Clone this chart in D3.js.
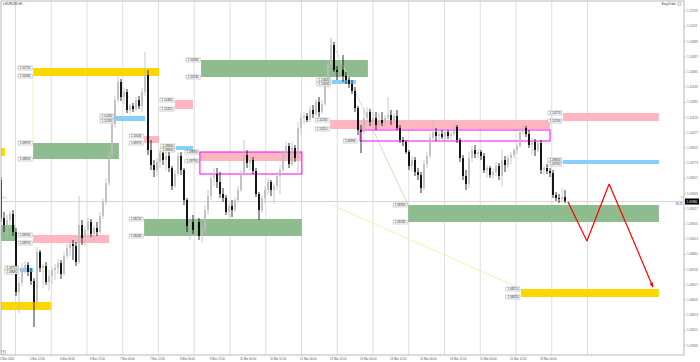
<!DOCTYPE html>
<html><head><meta charset="utf-8">
<script src="https://cdn.jsdelivr.net/npm/d3@7"></script>
<style>html,body{margin:0;padding:0;background:#fff;}svg{display:block;font-family:"Liberation Sans",Arial,sans-serif;}</style>
</head><body><svg id="c" width="700" height="362"></svg>
<script>
// ---- data (EURUSD H1 candles) ----
const open=[1.0960,1.0922,1.0915,1.0920,1.0926,1.0908,1.0848,1.0857,1.0872,1.0875,
1.0868,1.0859,1.0838,1.0888,1.0872,1.0874,1.0858,1.0864,1.0870,1.0872,
1.0877,1.0866,1.0884,1.0892,1.0896,1.0894,1.0878,1.0915,1.0902,1.0910,
1.0918,1.0906,1.0912,1.0908,1.0924,1.0938,1.0957,1.0985,1.1016,1.1040,
1.1058,1.1043,1.1048,1.1030,1.1034,1.1031,1.1040,1.1034,1.1048,1.1065,
1.0990,1.0975,1.0970,1.0978,1.0987,1.0980,1.0984,1.0972,1.0954,1.0966,
1.0984,1.0970,1.0940,1.0914,1.0918,1.0910,1.0918,1.0904,1.0910,1.0930,
1.0944,1.0962,1.0966,1.0958,1.0946,1.0942,1.0928,1.0934,1.0930,1.0940,
1.0950,1.0966,1.0985,1.0977,1.0980,1.0969,1.0946,1.0930,1.0942,1.0950,
1.0958,1.0950,1.0954,1.0964,1.0970,1.0986,1.0994,1.0976,1.0992,1.0982,
1.1012,1.1022,1.1024,1.1020,1.1030,1.1026,1.1038,1.1028,1.1036,1.1054,
1.1076,1.1095,1.1070,1.1068,1.1070,1.1064,1.1060,1.1056,1.1049,1.1032,
1.1010,1.1008,1.1022,1.1028,1.1018,1.1022,1.1015,1.1020,1.1017,1.1022,
1.1025,1.1020,1.1024,1.1012,1.1000,1.0998,1.0988,1.0974,1.0980,1.0968,
1.0965,1.0952,1.0976,1.0984,1.1002,1.1008,1.1004,1.1006,1.1003,1.1008,
1.1004,1.1006,1.1013,1.1000,1.0982,1.0964,1.0956,1.0982,1.0990,1.0986,
1.0988,1.0984,1.0970,1.0972,1.0965,1.0968,1.0974,1.0964,1.0980,1.0975,
1.0982,1.0985,1.0990,1.0994,1.1008,1.1012,1.1006,1.0995,1.0998,1.0990,
1.0997,1.0970,1.0972,1.0969,1.0967,1.0945,1.0942,1.0941,1.0943];
const high=[1.0963,1.0928,1.0925,1.0929,1.0930,1.0912,1.0863,1.0877,1.0879,1.0878,
1.0872,1.0862,1.0893,1.0890,1.0876,1.0878,1.0870,1.0873,1.0876,1.0881,
1.0880,1.0888,1.0896,1.0899,1.0900,1.0898,1.0944,1.0920,1.0914,1.0922,
1.0921,1.0915,1.0918,1.0928,1.0942,1.0962,1.0990,1.1022,1.1044,1.1064,
1.1061,1.1052,1.1051,1.1036,1.1037,1.1043,1.1044,1.1052,1.1088,1.1070,
1.1000,1.0980,1.0982,1.0990,1.0994,1.0990,1.0988,1.0974,1.0970,1.0988,
1.0988,1.0972,1.0942,1.0922,1.0925,1.0922,1.0922,1.0914,1.0935,1.0950,
1.0968,1.0972,1.0972,1.0968,1.0952,1.0945,1.0937,1.0940,1.0943,1.0954,
1.0970,1.1000,1.0990,1.0985,1.0983,1.0972,1.0948,1.0945,1.0954,1.0962,
1.0960,1.0957,1.0968,1.0975,1.0990,1.0998,1.0997,1.0998,1.0995,1.1018,
1.1027,1.1028,1.1027,1.1034,1.1035,1.1041,1.1043,1.1040,1.1058,1.1080,
1.1102,1.1098,1.1074,1.1072,1.1085,1.1068,1.1063,1.1060,1.1053,1.1034,
1.1015,1.1032,1.1033,1.1031,1.1028,1.1028,1.1027,1.1028,1.1025,1.1043,
1.1030,1.1027,1.1030,1.1015,1.1003,1.1000,1.0990,1.0984,1.0983,1.0972,
1.0968,1.0980,1.0988,1.1007,1.1020,1.1012,1.1009,1.1010,1.1011,1.1010,
1.1008,1.1016,1.1015,1.1002,1.0985,1.0970,1.0988,1.0994,1.0995,1.0991,
1.0990,1.0987,1.0975,1.0974,1.0972,1.0978,1.0977,1.0990,1.0984,1.0985,
1.0988,1.0992,1.0997,1.1012,1.1016,1.1014,1.1010,1.1002,1.1001,1.1000,
1.1000,1.0975,1.0976,1.0972,1.0970,1.0948,1.0946,1.0952,1.0950];
const low=[1.0918,1.0908,1.0902,1.0912,1.0904,1.0844,1.0827,1.0854,1.0866,1.0864,
1.0855,1.0813,1.0835,1.0868,1.0852,1.0855,1.0849,1.0856,1.0860,1.0866,
1.0861,1.0864,1.0881,1.0884,1.0880,1.0874,1.0876,1.0895,1.0894,1.0902,
1.0903,1.0898,1.0904,1.0906,1.0921,1.0935,1.0954,1.0982,1.1012,1.1038,
1.1039,1.1036,1.1027,1.1026,1.1028,1.1029,1.1031,1.1028,1.1044,1.0985,
1.0970,1.0963,1.0964,1.0972,1.0975,1.0970,1.0968,1.0950,1.0952,1.0964,
1.0965,1.0935,1.0908,1.0900,1.0906,1.0904,1.0900,1.0897,1.0906,1.0925,
1.0940,1.0954,1.0952,1.0942,1.0938,1.0925,1.0922,1.0923,1.0928,1.0937,
1.0948,1.0964,1.0972,1.0970,1.0966,1.0943,1.0920,1.0927,1.0937,1.0945,
1.0944,1.0936,1.0950,1.0946,1.0968,1.0982,1.0972,1.0974,1.0978,1.0965,
1.1005,1.1016,1.1018,1.1018,1.1022,1.1024,1.1023,1.1026,1.1034,1.1052,
1.1073,1.1068,1.1060,1.1062,1.1058,1.1056,1.1052,1.1046,1.1028,1.1005,
1.0987,1.1006,1.1018,1.1014,1.1012,1.1010,1.1012,1.1014,1.1013,1.1018,
1.1015,1.1016,1.1010,1.0997,1.0994,1.0986,1.0970,1.0969,1.0964,1.0960,
1.0947,1.0950,1.0972,1.0982,1.0998,1.0999,1.1000,1.1001,1.1000,1.1001,
1.0998,1.1004,1.0997,1.0978,1.0960,1.0950,1.0952,1.0978,1.0982,1.0982,
1.0980,1.0967,1.0962,1.0962,1.0961,1.0964,1.0960,1.0954,1.0968,1.0972,
1.0976,1.0982,1.0986,1.0992,1.1005,1.1003,1.0992,1.0985,1.0984,1.0988,
1.0966,1.0965,1.0966,1.0963,1.0942,1.0939,1.0937,1.0938,1.0937];
const close=[1.0922,1.0915,1.0920,1.0926,1.0908,1.0848,1.0857,1.0872,1.0875,1.0868,
1.0859,1.0838,1.0888,1.0872,1.0874,1.0858,1.0864,1.0870,1.0872,1.0877,
1.0866,1.0884,1.0892,1.0896,1.0894,1.0878,1.0915,1.0902,1.0910,1.0918,
1.0906,1.0912,1.0908,1.0924,1.0938,1.0957,1.0985,1.1016,1.1040,1.1058,
1.1043,1.1048,1.1030,1.1034,1.1031,1.1040,1.1034,1.1048,1.1065,1.0990,
1.0975,1.0970,1.0978,1.0987,1.0980,1.0984,1.0972,1.0954,1.0966,1.0984,
1.0970,1.0940,1.0914,1.0918,1.0910,1.0918,1.0904,1.0910,1.0930,1.0944,
1.0962,1.0966,1.0958,1.0946,1.0942,1.0928,1.0934,1.0930,1.0940,1.0950,
1.0966,1.0985,1.0977,1.0980,1.0969,1.0946,1.0930,1.0942,1.0950,1.0958,
1.0950,1.0954,1.0964,1.0970,1.0986,1.0994,1.0976,1.0992,1.0982,1.1012,
1.1022,1.1024,1.1020,1.1030,1.1026,1.1038,1.1028,1.1036,1.1054,1.1076,
1.1095,1.1070,1.1068,1.1070,1.1064,1.1060,1.1056,1.1049,1.1032,1.1010,
1.1008,1.1022,1.1028,1.1018,1.1022,1.1015,1.1020,1.1017,1.1022,1.1025,
1.1020,1.1024,1.1012,1.1000,1.0998,1.0988,1.0974,1.0980,1.0968,1.0965,
1.0952,1.0976,1.0984,1.1002,1.1008,1.1004,1.1006,1.1003,1.1008,1.1004,
1.1006,1.1013,1.1000,1.0982,1.0964,1.0956,1.0982,1.0990,1.0986,1.0988,
1.0984,1.0970,1.0972,1.0965,1.0968,1.0974,1.0964,1.0980,1.0975,1.0982,
1.0985,1.0990,1.0994,1.1008,1.1012,1.1006,1.0995,1.0998,1.0990,1.0997,
1.0970,1.0972,1.0969,1.0967,1.0945,1.0942,1.0941,1.0943,1.0939];

const timeLabels=["5 Mar 2024","5 Mar 12:00","6 Mar 00:00","6 Mar 12:00","7 Mar 00:00","7 Mar 12:00",
"8 Mar 00:00","8 Mar 12:00","11 Mar 00:00","11 Mar 12:00","12 Mar 00:00","12 Mar 12:00","13 Mar 00:00",
"13 Mar 12:00","14 Mar 00:00","14 Mar 12:00","15 Mar 00:00","15 Mar 12:00","18 Mar 00:00"];
const timeLabelBars=[0,10,20,30,40,50,60,70,80,90,100,110,120,130,140,150,160,170,180];
const priceTicks=[1.11293,1.11141,1.10989,1.10837,1.10685,1.10533,1.10381,1.10229,1.10077,1.09925,
1.09773,1.09621,1.09469,1.09317,1.09165,1.09013,1.08861,1.08709,1.08557,1.08405,1.08253,1.08101,1.07949];

// zones: kind, start bar, end bar, upper price, lower price, labelled
const zoneKind=["gold","green","pink","blue","green","gold","pink","blue","pink","green","pink","blue","gold","blue","pink","pink","blue","green","gold","green"];
const zoneFrom=[10.7,66.7,58,38,10.7,-1,47.7,58.3,66.3,47.7,10.7,6.3,-1,110.3,109.7,187.3,187.3,135.7,173.3,-1];
const zoneTo=[52.7,122.3,64,48,39.3,1.3,52.7,64,100.3,100.3,36,10.7,16.7,118.3,183,219.3,219.3,219.3,219.3,4.7];
const zoneHi=[1.1072,1.1080,1.1040,1.1024,1.0997,1.0992,1.1004,1.0994,1.0988,1.0921,1.0905,1.0872,1.0838,1.1060,1.1020,1.1027,1.0980,1.0935,1.0851,1.0915];
const zoneLo=[1.1064,1.1063,1.1031,1.1019,1.0981,1.0984,1.0997,1.0990,1.0979,1.0904,1.0897,1.0868,1.0830,1.1056,1.1011,1.1019,1.0976,1.0918,1.0843,1.0899];
const zoneLabelled=[1,1,1,1,1,0,1,1,1,1,1,1,0,1,1,1,1,1,1,0];
// magenta frames
const frameFrom=[66.3,119.7], frameTo=[100.3,183], frameHi=[1.0988,1.1010], frameLo=[1.0966,1.0999], frameLabel=[0,1];
// faint trend lines
const trendKind=["gold","green","gold"];
const trendB1=[110.3,109.7,10.7], trendP1=[1.0935,1.1102,1.1064];
const trendB2=[172,135.7,10.7], trendP2=[1.0853,1.0935,1.0997];
// projected red path
const pathBars=[189,195.3,202.7,210.7,217.3];
const pathPrices=[1.0938,1.0899,1.0956,1.0900,1.0853];

// ---- drawing ----
const svg=d3.select("#c");
const L=1,T=1,R=684,B=355;
const x=d3.scaleLinear().domain([0,close.length-1]).range([1,1+3*(close.length-1)]);
const y=d3.scaleLinear().domain([1.0790,1.1140]).range([350,0]);
const colors={gold:"#ffd700",green:"#8fbc8f",pink:"#ffb6c1",blue:"#87cefa"};
const faint={gold:"#fbeea8",green:"#cfe0cf"};
const f5=d3.format(".5f");

svg.append("rect").attr("width",700).attr("height",362).attr("fill","#fff");
svg.append("defs").append("clipPath").attr("id","clip").append("rect")
  .attr("x",L).attr("y",T).attr("width",R-L).attr("height",B-T);
svg.select("defs").append("marker").attr("id","arr").attr("viewBox","0 0 10 10")
  .attr("refX",9).attr("refY",5).attr("markerWidth",4).attr("markerHeight",4).attr("orient","auto")
  .append("path").attr("d","M0,1L10,5L0,9Z").attr("fill","#ff0000");

const g=svg.append("g").attr("clip-path","url(#clip)");

// vertical grid
const grid=d3.range(17).map(k=>15.5+35.75*k);
g.selectAll(".vg").data(grid).join("line").attr("x1",d=>d).attr("x2",d=>d).attr("y1",T).attr("y2",B)
  .attr("stroke","#dedede").attr("stroke-width",1);

// zones
const zones=zoneKind.map((k,i)=>({k,from:zoneFrom[i],to:zoneTo[i],hi:zoneHi[i],lo:zoneLo[i],lab:zoneLabelled[i]}));
g.selectAll(".z").data(zones).join("rect")
  .attr("x",d=>x(d.from)).attr("width",d=>x(d.to)-x(d.from))
  .attr("y",d=>y(d.hi)).attr("height",d=>y(d.lo)-y(d.hi)).attr("fill",d=>colors[d.k]);

// faint lines
trendKind.forEach((k,i)=>{
  g.append("line").attr("x1",x(trendB1[i])).attr("y1",y(trendP1[i])).attr("x2",x(trendB2[i])).attr("y2",y(trendP2[i]))
   .attr("stroke",faint[k]).attr("stroke-width",1);
});

// current price line
const last=close[close.length-1];
g.append("line").attr("x1",L).attr("x2",R).attr("y1",y(last)+0.5).attr("y2",y(last)+0.5).attr("stroke","#d6d6d6").attr("stroke-width",1);

// frames
frameFrom.forEach((f,i)=>{
  g.append("rect").attr("x",x(f)).attr("width",x(frameTo[i])-x(f)).attr("y",y(frameHi[i])).attr("height",y(frameLo[i])-y(frameHi[i]))
   .attr("fill","none").attr("stroke","#ff00ff").attr("stroke-width",1);
});

// candles
const bars=close.map((c,i)=>({i,o:open[i],h:high[i],l:low[i],c}));
const bull="#bdbdbd";
g.selectAll(".w").data(bars).join("line")
  .attr("x1",d=>x(d.i)).attr("x2",d=>x(d.i)).attr("y1",d=>y(d.h)).attr("y2",d=>y(d.l))
  .attr("stroke",d=>d.c>=d.o?bull:"#000").attr("stroke-width",0.8);
g.selectAll(".b").data(bars).join("rect")
  .attr("x",d=>x(d.i)-0.85).attr("width",1.7)
  .attr("y",d=>y(Math.max(d.o,d.c))).attr("height",d=>Math.max(0.7,Math.abs(y(d.o)-y(d.c))))
  .attr("fill",d=>d.c>=d.o?bull:"#000");

// red projected path
for(let i=0;i<pathBars.length-1;i++){
  const ln=g.append("line").attr("x1",x(pathBars[i])).attr("y1",y(pathPrices[i])).attr("x2",x(pathBars[i+1])).attr("y2",y(pathPrices[i+1]))
    .attr("stroke","#ff0000").attr("stroke-width",1.2);
  if(i===pathBars.length-2) ln.attr("marker-end","url(#arr)");
}

// level labels
function tag(px,py,txt){
  const w=14,h=4;
  svg.append("rect").attr("x",px-w).attr("y",py-h/2).attr("width",w).attr("height",h)
    .attr("fill","#fff").attr("stroke","#8a8a8a").attr("stroke-width",0.4);
  svg.append("text").attr("x",px-w/2).attr("y",py+1.05).attr("text-anchor","middle")
    .attr("font-size",3).attr("fill","#222").text(txt);
}
zones.filter(d=>d.lab).forEach(d=>{
  tag(x(d.from)-1,y(d.hi),f5(d.hi));
  tag(x(d.from)-1,y(d.lo),f5(d.lo));
});
frameFrom.forEach((f,i)=>{ if(frameLabel[i]) tag(x(f)-3,y(frameLo[i]),f5(frameLo[i])); });

// right price axis
const ax=svg.append("g").attr("transform",`translate(${R},0)`)
  .call(d3.axisRight(y).tickValues(priceTicks).tickSize(2).tickPadding(1).tickFormat(f5));
ax.select(".domain").remove();
ax.selectAll("line").attr("stroke","#9a9a9a").attr("stroke-width",0.5);
ax.selectAll("text").attr("font-size",3).attr("fill","#666").attr("font-family","Liberation Sans, Arial, sans-serif");

// current price tag
svg.append("rect").attr("x",R+1).attr("y",y(last)-2.5).attr("width",14).attr("height",6).attr("fill","#000");
svg.append("text").attr("x",R+8).attr("y",y(last)+1.5).attr("text-anchor","middle").attr("font-size",3).attr("fill","#fff").text(f5(last));
svg.append("text").attr("x",R-1.5).attr("y",y(last)+3.5).attr("text-anchor","end").attr("font-size",2.8).attr("fill","#444").text("58:25");
svg.append("text").attr("x",R-1.5).attr("y",y(last)-2).attr("text-anchor","end").attr("font-size",2.8).attr("fill","#f08040").text("8");
svg.append("text").attr("x",2.5).attr("y",y(last)-2).attr("font-size",3).attr("fill","#f08040").text("0.5");

// time labels
svg.selectAll(".tl").data(timeLabels).join("text")
  .attr("x",(d,i)=>x(timeLabelBars[i])-1).attr("y",359.5).attr("font-size",2.8).attr("fill","#555").text(d=>d);

// border
svg.append("rect").attr("x",L).attr("y",T).attr("width",R-L).attr("height",B-T).attr("fill","none").attr("stroke","#a8a8a8").attr("stroke-width",0.8);

// title and misc
svg.append("text").attr("x",2.5).attr("y",5).attr("font-size",3).attr("fill","#333").text("\u25BE EURUSD,H1");
svg.append("text").attr("x",676).attr("y",5).attr("text-anchor","end").attr("font-size",3).attr("fill","#333").text("EasyOrder");
svg.append("circle").attr("cx",679.5).attr("cy",4).attr("r",1.6).attr("fill","none").attr("stroke","#777").attr("stroke-width",0.5);
svg.append("rect").attr("x",1.5).attr("y",350.5).attr("width",4).attr("height",4).attr("fill","#fff").attr("stroke","#888").attr("stroke-width",0.4);
svg.append("text").attr("x",3.5).attr("y",353.6).attr("text-anchor","middle").attr("font-size",3).attr("fill","#333").text("T");
</script></body></html>
